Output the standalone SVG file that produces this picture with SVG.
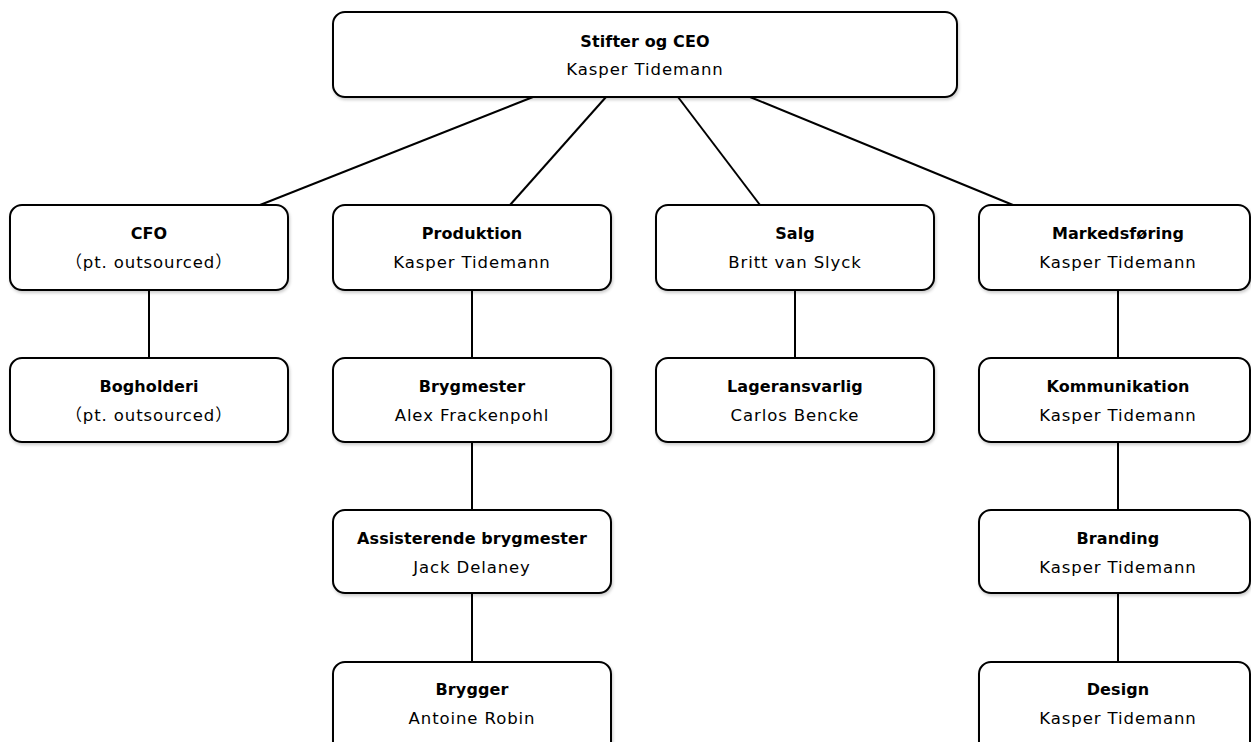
<svg xmlns="http://www.w3.org/2000/svg" width="1251" height="742" viewBox="0 0 1251 742">
<defs>
<filter id="sh" x="-5%" y="-10%" width="110%" height="130%">
<feDropShadow dx="1" dy="2" stdDeviation="1.5" flood-color="#000" flood-opacity="0.2"/>
</filter>
<style>
.box{fill:#fff;stroke:#000;stroke-width:2;filter:url(#sh)}
.t{font-family:"DejaVu Sans","Noto Sans CJK SC",sans-serif;font-size:16px;font-weight:bold;letter-spacing:0.1px;text-anchor:middle;fill:#000}
.s{font-family:"DejaVu Sans","Noto Sans CJK SC",sans-serif;font-size:16.5px;letter-spacing:0.9px;text-anchor:middle;fill:#000}
.c{stroke:#000;stroke-width:2;fill:none}
</style>
</defs>
<g id="connectors">
<line class="c" x1="533" y1="97" x2="260" y2="205"/>
<line class="c" x1="606" y1="97" x2="510" y2="205"/>
<line class="c" x1="678" y1="97" x2="760" y2="205"/>
<line class="c" x1="750" y1="97" x2="1013" y2="205"/>
<line class="c" x1="149" y1="290" x2="149" y2="358"/>
<line class="c" x1="472" y1="290" x2="472" y2="358"/>
<line class="c" x1="472" y1="442" x2="472" y2="510"/>
<line class="c" x1="472" y1="593" x2="472" y2="662"/>
<line class="c" x1="795" y1="290" x2="795" y2="358"/>
<line class="c" x1="1118" y1="290" x2="1118" y2="358"/>
<line class="c" x1="1118" y1="442" x2="1118" y2="510"/>
<line class="c" x1="1118" y1="593" x2="1118" y2="662"/>
</g>
<g id="ceo"><rect class="box" x="333" y="12" width="624" height="85" rx="12"/><text class="t" x="645" y="47">Stifter og CEO</text><text class="s" x="645" y="75">Kasper Tidemann</text></g>
<g id="cfo"><rect class="box" x="10" y="205" width="278" height="85" rx="12"/><text class="t" x="149" y="239">CFO</text><text class="s" x="149" y="268">（pt. outsourced）</text></g>
<g id="produktion"><rect class="box" x="333" y="205" width="278" height="85" rx="12"/><text class="t" x="472" y="239">Produktion</text><text class="s" x="472" y="268">Kasper Tidemann</text></g>
<g id="salg"><rect class="box" x="656" y="205" width="278" height="85" rx="12"/><text class="t" x="795" y="239">Salg</text><text class="s" x="795" y="268">Britt van Slyck</text></g>
<g id="marked"><rect class="box" x="979" y="205" width="271" height="85" rx="12"/><text class="t" x="1118" y="239">Markedsføring</text><text class="s" x="1118" y="268">Kasper Tidemann</text></g>
<g id="bogholderi"><rect class="box" x="10" y="358" width="278" height="84" rx="12"/><text class="t" x="149" y="392">Bogholderi</text><text class="s" x="149" y="421">（pt. outsourced）</text></g>
<g id="brygmester"><rect class="box" x="333" y="358" width="278" height="84" rx="12"/><text class="t" x="472" y="392">Brygmester</text><text class="s" x="472" y="421">Alex Frackenpohl</text></g>
<g id="lager"><rect class="box" x="656" y="358" width="278" height="84" rx="12"/><text class="t" x="795" y="392">Lageransvarlig</text><text class="s" x="795" y="421">Carlos Bencke</text></g>
<g id="kommunikation"><rect class="box" x="979" y="358" width="271" height="84" rx="12"/><text class="t" x="1118" y="392">Kommunikation</text><text class="s" x="1118" y="421">Kasper Tidemann</text></g>
<g id="assisterende"><rect class="box" x="333" y="510" width="278" height="83" rx="12"/><text class="t" x="472" y="544">Assisterende brygmester</text><text class="s" x="472" y="573">Jack Delaney</text></g>
<g id="branding"><rect class="box" x="979" y="510" width="271" height="83" rx="12"/><text class="t" x="1118" y="544">Branding</text><text class="s" x="1118" y="573">Kasper Tidemann</text></g>
<g id="brygger"><rect class="box" x="333" y="662" width="278" height="95" rx="12"/><text class="t" x="472" y="695">Brygger</text><text class="s" x="472" y="724">Antoine Robin</text></g>
<g id="design"><rect class="box" x="979" y="662" width="271" height="95" rx="12"/><text class="t" x="1118" y="695">Design</text><text class="s" x="1118" y="724">Kasper Tidemann</text></g>
</svg>
